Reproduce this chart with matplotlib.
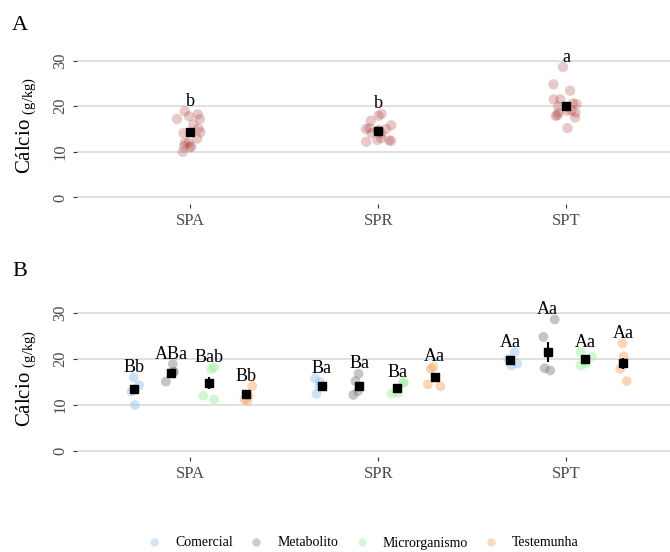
import matplotlib

matplotlib.use("Agg")
import matplotlib.pyplot as plt
import numpy as np
from matplotlib.lines import Line2D

# calcium (g/kg) per location, 4 replicates per treatment
categories = ["SPA", "SPR", "SPT"]
treatments = ["Comercial", "Metabolito", "Microrganismo", "Testemunha"]

comercial = [[16.0, 14.3, 12.9, 10.0], [15.8, 15.0, 14.0, 12.4], [21.5, 20.0, 19.0, 18.6]]
metabolito = [[18.9, 17.2, 17.2, 15.1], [16.8, 15.2, 13.0, 12.2], [28.6, 24.8, 17.5, 18.0]]
microrganismo = [[18.2, 17.8, 12.0, 11.2], [15.0, 14.8, 12.6, 12.5], [21.5, 20.5, 19.0, 18.6]]
testemunha = [[14.1, 12.0, 11.0, 11.2], [18.3, 17.9, 14.5, 14.1], [23.4, 20.6, 17.9, 15.2]]

# means / standard errors as drawn
means_a = [14.4, 14.5, 20.0]
letters_a = ["b", "b", "a"]

means_b = {
    "Comercial": [13.4, 14.2, 19.8],
    "Metabolito": [17.0, 14.2, 21.5],
    "Microrganismo": [14.8, 13.8, 19.9],
    "Testemunha": [12.3, 16.2, 19.1],
}
se_b = {
    "Comercial": [1.0, 0.3, 0.4],
    "Metabolito": [0.4, 0.5, 2.2],
    "Microrganismo": [1.3, 0.3, 0.4],
    "Testemunha": [0.3, 0.8, 1.2],
}
letters_b = {
    "Comercial": ["Bb", "Ba", "Aa"],
    "Metabolito": ["ABa", "Ba", "Aa"],
    "Microrganismo": ["Bab", "Ba", "Aa"],
    "Testemunha": ["Bb", "Aa", "Aa"],
}
values_b = {
    "Comercial": comercial,
    "Metabolito": metabolito,
    "Microrganismo": microrganismo,
    "Testemunha": testemunha,
}

colours = {
    "Comercial": "#8EC3EE",
    "Metabolito": "#808080",
    "Microrganismo": "#98EE98",
    "Testemunha": "#F4A460",
}

plt.rcParams.update({
    "font.family": ["Liberation Serif", "DejaVu Serif"],
    "mathtext.fontset": "custom",
    "mathtext.rm": "Liberation Serif",
    "mathtext.it": "Liberation Serif:italic",
    "mathtext.bf": "Liberation Serif:bold",
})

rng = np.random.default_rng(7)
xs = np.arange(1, len(categories) + 1)
dodge = [-0.3, -0.1, 0.1, 0.3]

fig = plt.figure(figsize=(6.7, 5.52), dpi=100)
ax_a = fig.add_axes([0.115, 0.630, 0.885, 0.285])
ax_b = fig.add_axes([0.115, 0.172, 0.885, 0.286])


def style_axis(ax, ylim):
    ax.set_xlim(0.4, 3.55)
    ax.set_ylim(*ylim)
    ax.set_yticks([0, 10, 20, 30])
    ax.set_xticks(xs)
    ax.set_xticklabels(categories)
    for s in ax.spines.values():
        s.set_visible(False)
    ax.grid(axis="y", color="#DADADA", lw=1.2)
    ax.set_axisbelow(True)
    ax.tick_params(axis="both", colors="#333333", labelcolor="#4D4D4D",
                   labelsize=12, length=3, width=0.8)
    for lab in ax.get_yticklabels():
        lab.set_rotation(90)
        lab.set_va("center")
    ax.set_ylabel(r"Cálcio ${}_{\mathrm{(g/kg)}}$", fontsize=15)
    ax.yaxis.set_label_coords(-0.066, 0.5)


# panel A: pooled
style_axis(ax_a, (-1.5, 33))
for i, cat in enumerate(categories):
    pooled = np.concatenate([values_b[t][i] for t in treatments])
    jit = rng.uniform(-0.07, 0.07, len(pooled))
    ax_a.scatter(xs[i] + jit, pooled, s=55, color="#A52A2A", alpha=0.25,
                 edgecolors="none", zorder=2)
    ax_a.plot(xs[i], means_a[i], marker="s", color="black", ms=5.5, zorder=4)
    ax_a.text(xs[i], pooled.max() + 1.2, letters_a[i], ha="center",
              va="baseline", fontsize=13)

# panel B: by treatment
style_axis(ax_b, (-1.3, 33))
for j, t in enumerate(treatments):
    for i, cat in enumerate(categories):
        vals = np.array(values_b[t][i])
        xc = xs[i] + dodge[j]
        jit = rng.uniform(-0.04, 0.04, len(vals))
        ax_b.scatter(xc + jit, vals, s=50, color=colours[t], alpha=0.45,
                     edgecolors="none", zorder=2)
        ax_b.errorbar(xc, means_b[t][i], yerr=se_b[t][i], fmt="s",
                      color="black", ms=5.5, elinewidth=1.5, capsize=0,
                      zorder=4)
        ax_b.text(xc, vals.max() + 1.2, letters_b[t][i], ha="center",
                  va="baseline", fontsize=13)

fig.text(12 / 670, 1 - 25 / 552, "A", fontsize=16, va="center", ha="left")
fig.text(12 / 670, 1 - 272 / 552, "B", fontsize=16, va="center", ha="left")

handles = [Line2D([0], [0], marker="o", ls="none", ms=6, color=colours[t],
                  alpha=0.4, markeredgewidth=0) for t in treatments]
fig.legend(handles, treatments, loc="center", ncol=4, frameon=False,
           bbox_to_anchor=(363 / 670, 1 - 543 / 552), fontsize=10,
           handlelength=1.0, handletextpad=1.0, columnspacing=1.2)

fig.savefig("out.png", dpi=100)
